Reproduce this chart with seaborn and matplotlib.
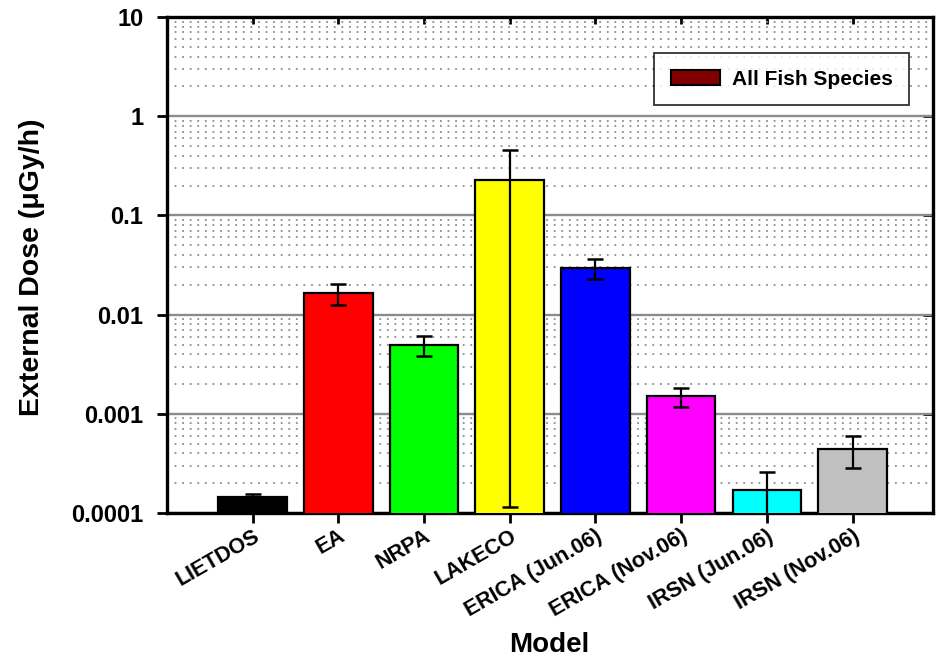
import matplotlib
matplotlib.use("Agg")
import matplotlib.pyplot as plt
import seaborn as sns
import numpy as np
import pandas as pd
from matplotlib.patches import Patch
from matplotlib.ticker import FixedLocator, FixedFormatter, NullFormatter, NullLocator

models = ["LIETDOS", "EA", "NRPA", "LAKECO", "ERICA (Jun.06)",
          "ERICA (Nov.06)", "IRSN (Jun.06)", "IRSN (Nov.06)"]
dose = [1.46e-4, 0.0166, 0.0049, 0.226, 0.0296, 0.0015, 1.71e-4, 4.4e-4]
err_low = [1.37e-4, 0.0124, 0.0038, 1.16e-4, 0.0229, 0.00118, 9.0e-5, 2.83e-4]
err_high = [1.55e-4, 0.0206, 0.00604, 0.454, 0.036, 0.00182, 2.6e-4, 6.0e-4]
colors = ["#000000", "#ff0000", "#00ff00", "#ffff00", "#0000ff",
          "#ff00ff", "#00ffff", "#c0c0c0"]
ytick_vals = [1e-4, 1e-3, 1e-2, 1e-1, 1, 10]
ytick_labels = ["0.0001", "0.001", "0.01", "0.1", "1", "10"]

sns.set_theme(style="white")
plt.rcParams['font.family'] = ['Liberation Sans', 'DejaVu Sans']
plt.rcParams['text.color'] = 'black'
plt.rcParams['axes.labelcolor'] = 'black'
plt.rcParams['xtick.color'] = 'black'
plt.rcParams['ytick.color'] = 'black'

df = pd.DataFrame({"Model": models, "Dose": dose})

fig = plt.figure(figsize=(9.4, 6.59), dpi=100)
ax = fig.add_axes([0.1777, 0.2215, 0.8149, 0.7525])

sns.barplot(data=df, x="Model", y="Dose", hue="Model", palette=colors,
            saturation=1, width=0.8, edgecolor="black", linewidth=1.6,
            legend=False, ax=ax, zorder=3, log_scale=(False, True))

x = np.arange(len(models))
d = np.array(dose)
ax.errorbar(x, d, yerr=[d - np.array(err_low), np.array(err_high) - d],
            fmt="none", ecolor="black", elinewidth=1.6, capsize=6,
            capthick=1.8, zorder=4)

ax.set_yscale("log")
ax.set_ylim(1e-4, 10)
ax.set_xlim(-1.0, 7.94)

minor = [m * 10.0 ** e for e in range(-4, 1) for m in range(2, 10)]
ax.yaxis.set_major_locator(FixedLocator(ytick_vals))
ax.yaxis.set_major_formatter(FixedFormatter(ytick_labels))
ax.yaxis.set_minor_locator(FixedLocator(minor))
ax.yaxis.set_minor_formatter(NullFormatter())
ax.grid(True, which="major", axis="y", color="#8c8c8c", lw=1.7, zorder=0)
ax.grid(True, which="minor", axis="y", color="#8c8c8c", lw=1.3,
        linestyle=(0, (1, 3.2)), zorder=0)
ax.set_axisbelow(True)

for s in ax.spines.values():
    s.set_visible(True)
    s.set_color("black")
    s.set_linewidth(2.4)

ax.tick_params(axis="y", which="major", direction="out", length=7, width=2,
               left=True, right=False, labelsize=17, pad=10)
ax.tick_params(axis="y", which="minor", length=0)
ax.tick_params(axis="x", which="major", direction="out", length=7, width=2,
               bottom=True, top=False, pad=2)
for lab in ax.get_yticklabels():
    lab.set_fontweight("bold")

ax.set_xticks(x)
ax.set_xticklabels(models, rotation=30, ha="right", va="top",
                   rotation_mode="anchor", fontsize=15.5, fontweight="bold")

# inward ticks on top (categories) and right (decades)
sx = ax.secondary_xaxis("top")
sx.set_xticks(x)
sx.tick_params(direction="in", length=5, width=2, labeltop=False)
sx.xaxis.set_minor_locator(NullLocator())
sy = ax.secondary_yaxis("right")
sy.yaxis.set_major_locator(FixedLocator(ytick_vals))
sy.yaxis.set_minor_locator(NullLocator())
sy.tick_params(direction="in", length=7, width=2, labelright=False)
for s in list(sx.spines.values()) + list(sy.spines.values()):
    s.set_visible(False)

ax.set_xlabel("Model", fontsize=20, fontweight="bold", va="center")
ax.xaxis.set_label_coords(0.499, -0.266)
ax.set_ylabel("External Dose (\u03bcGy/h)", fontsize=20.5, fontweight="bold",
              va="center")
ax.yaxis.set_label_coords(-0.176, 0.496)

leg = ax.legend(handles=[Patch(facecolor="#800000", edgecolor="black",
                               linewidth=1.5, label="All Fish Species")],
                loc="upper right", bbox_to_anchor=(0.969, 0.927),
                borderaxespad=0, frameon=True, fancybox=False,
                edgecolor="black", prop={"weight": "bold", "size": 15},
                handlelength=2.35, handleheight=0.76, borderpad=0.78,
                handletextpad=0.6)
leg.get_frame().set_linewidth(1.3)

fig.savefig("out.png", dpi=100)
